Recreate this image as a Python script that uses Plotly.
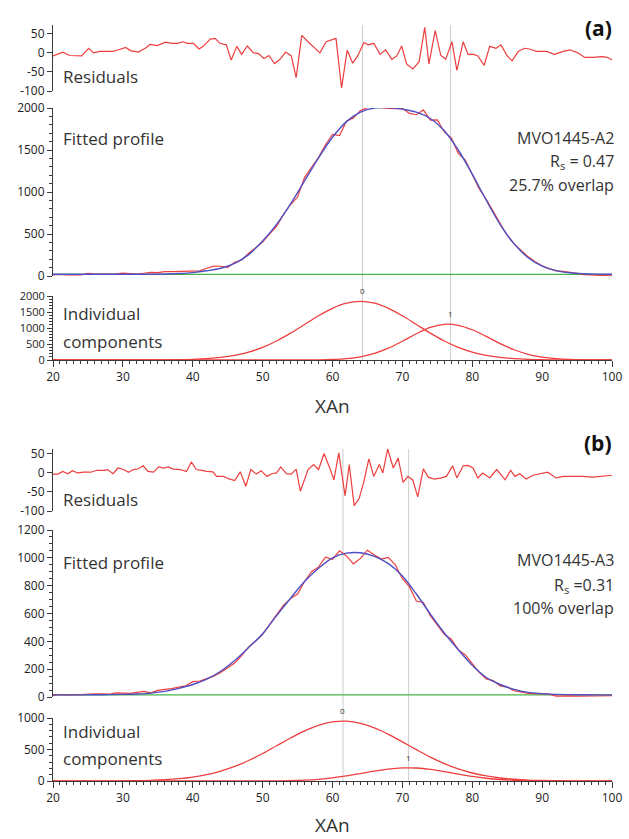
import plotly.graph_objects as go

# ---------------- data ----------------
x_grid = list(range(20, 101, 2))      # grid for fitted curves / components
x_obs = list(range(20, 101))          # grid for observed profiles

# Panel (a)  MVO1445-A2
res_a_x = [20.0, 20.7, 21.4, 22.4, 23.4, 24.1, 25.1, 25.8, 26.7, 27.7, 28.6, 29.4, 30.4, 31.1, 32.2, 33.2,
           33.9, 34.9, 36.1, 37.0, 37.8, 38.6, 39.2, 40.1, 40.9, 41.5, 42.5, 43.2, 43.9, 44.8, 45.5, 46.3,
           47.0, 47.8, 48.7, 49.4, 50.2, 50.9, 51.7, 52.5, 53.3, 54.1, 54.8, 55.6, 56.5, 58.2, 59.1, 60.5,
           61.3, 62.1, 62.9, 63.6, 64.5, 65.1, 65.9, 66.8, 67.6, 68.5, 69.2, 69.9, 70.6, 71.5, 72.4, 73.2,
           73.8, 74.7, 75.5, 76.2, 77.1, 77.8, 78.7, 79.4, 80.2, 80.8, 81.7, 82.5, 83.4, 84.1, 85.0, 85.7,
           86.6, 87.5, 88.2, 89.2, 90.6, 91.8, 93.0, 94.0, 95.1, 96.1, 97.3, 98.5, 99.2, 100.0]
res_a_y = [-8, -2, 2, -7, -7, -8, 12, 0, 4, 4, 4, 8, 14, 6, 2, 12,
           22, 19, 28, 25, 25, 29, 25, 25, 10, 17, 36, 38, 25, 21, -19, 17,
           -4, 18, 0, -2, -15, -7, -28, -17, 2, -8, -65, 46, 29, 0, 29, 38,
           -92, 7, -27, -8, 27, 21, 25, -4, 8, -17, -8, 18, -29, -42, -23, 67,
           -29, 58, -7, -17, 29, -46, 29, -4, -4, -8, -33, 17, 12, 21, -8, -21,
           4, 12, 10, 4, 4, -4, 4, 8, 0, -12, -12, -10, -11, -18]
obs_a = [12, 20, 13, 13, 12, 32, 22, 24, 24, 26, 34, 25, 23, 33, 43, 41, 51, 51, 56, 60,
         65, 62, 92, 117, 116, 103, 162, 191, 270, 336, 403, 502, 592, 735, 851, 940, 1172, 1295, 1410, 1563,
         1687, 1672, 1843, 1882, 1971, 2004, 2019, 2005, 1994, 1993, 1996, 1935, 1920, 1977, 1855, 1858, 1715, 1645, 1460, 1380,
         1209, 1035, 914, 767, 633, 482, 382, 305, 228, 169, 122, 88, 60, 54, 46, 32, 15, 12, 12, 10,
         2]
fit_a = [20, 20, 20, 20, 20, 20, 21, 21, 24, 29, 40, 62, 92, 150, 255, 416, 614, 859, 1132, 1407,
         1652, 1838, 1951, 1999, 2004, 1986, 1950, 1875, 1730, 1500, 1213, 902, 613, 382, 218, 118, 64, 38, 27, 22,
         20]
comp0_a = [0, 0, 0, 0, 0, 0, 0, 1, 4, 9, 20, 42, 80, 146, 248, 396, 594, 838, 1110, 1381,
           1615, 1774, 1830, 1774, 1615, 1381, 1110, 838, 594, 396, 248, 146, 80, 42, 20, 9, 4, 2, 1, 0,
           0]
comp1_a = [0, 0, 0, 0, 0, 0, 0, 0, 0, 0, 0, 0, 0, 0, 0, 0, 0, 1, 2, 6,
           17, 44, 101, 205, 369, 585, 820, 1017, 1116, 1085, 945, 736, 513, 320, 178, 89, 40, 16, 6, 2,
           0]
base_a = [20, 20]
centers_a = [64.3, 76.9]
peak_a = [1830, 1116]

# Panel (b)  MVO1445-A3
res_b_x = [20.0, 20.7, 21.4, 22.1, 22.8, 23.5, 24.4, 25.4, 26.3, 27.3, 27.8, 28.6, 29.3, 30.1, 30.8, 31.5,
           32.2, 32.9, 33.6, 34.4, 35.1, 35.8, 36.5, 37.2, 38.2, 39.1, 39.8, 40.5, 41.3, 42.0, 42.9, 43.4,
           44.4, 45.1, 46.0, 46.8, 47.6, 48.3, 49.1, 49.8, 50.6, 51.3, 52.0, 52.6, 53.4, 54.1, 54.8, 55.4,
           56.5, 57.3, 58.0, 58.8, 59.6, 60.2, 60.9, 61.8, 62.4, 63.1, 63.8, 64.5, 65.2, 65.9, 66.7, 67.2,
           67.9, 68.7, 69.4, 70.1, 70.8, 71.5, 72.2, 73.0, 73.7, 74.6, 75.6, 76.3, 77.2, 77.8, 78.7, 79.4,
           80.1, 80.8, 81.5, 82.5, 83.5, 84.7, 85.5, 86.1, 86.8, 87.7, 88.7, 89.7, 90.8, 92.0, 93.0, 94.4,
           95.8, 97.3, 98.7, 100.0]
res_b_y = [-3, -3, 4, -2, 6, 0, 2, 2, 7, 7, 9, -2, 13, 9, 2, 9,
           11, 19, 4, 2, 16, 13, 16, 10, 9, 4, 29, 9, 7, 4, 3, -9,
           -9, -15, -20, 3, -35, 9, -3, 6, -9, -2, 0, 16, -2, -3, 10, -48,
           9, 22, 9, 51, 13, -18, 53, -60, 22, -86, -68, -22, 37, -9, 22, 0,
           63, 13, 39, -25, -9, -19, -63, 11, -11, -16, -13, -9, 19, -13, 19, 20,
           13, -13, 0, -13, 9, -18, 7, -9, -2, -16, -6, -2, 2, -13, -9, -9,
           -9, -11, -9, -6]
obs_b = [12, 18, 13, 18, 17, 17, 22, 23, 20, 30, 28, 26, 33, 40, 30, 48, 55, 60, 71, 81,
         110, 115, 132, 150, 176, 207, 244, 297, 360, 402, 450, 522, 590, 660, 707, 740, 830, 900, 935, 1005,
         990, 1050, 1014, 957, 996, 1055, 1020, 991, 1003, 948, 850, 793, 690, 679, 584, 514, 451, 415, 340, 302,
         241, 177, 130, 118, 80, 70, 46, 33, 25, 24, 24, 21, 7, 9, 8, 7, 7, 4, 5, 6,
         9]
fit_b = [15, 15, 15, 16, 17, 19, 22, 28, 40, 62, 90, 128, 185, 262, 355, 455, 585, 710, 830, 925,
         1000, 1034, 1036, 1010, 958, 870, 740, 596, 460, 340, 228, 140, 90, 55, 33, 24, 19, 17, 16, 15,
         15]
comp0_b = [0, 0, 0, 1, 1, 3, 6, 11, 21, 37, 63, 101, 157, 231, 325, 436, 559, 682, 795, 884,
           937, 949, 916, 843, 741, 621, 497, 379, 276, 191, 127, 80, 48, 28, 15, 8, 4, 2, 1, 0,
           0]
comp1_b = [0, 0, 0, 0, 0, 0, 0, 0, 0, 0, 0, 0, 0, 0, 0, 1, 3, 6, 14, 27,
           49, 80, 118, 157, 190, 208, 206, 185, 150, 110, 73, 44, 24, 12, 5, 2, 1, 0, 0, 0,
           0]
base_b = [15, 15]
centers_b = [61.5, 70.9]
peak_b = [949, 208]

x_ticks = [20, 30, 40, 50, 60, 70, 80, 90, 100]

# ---------------- styling ----------------
W, H = 629, 839
RED = "rgb(238,62,62)"
BLUE = "rgb(78,80,196)"
GREEN = "rgb(70,180,70)"
AX = "#3a3a3a"
FONT = "Open Sans"


def py(p):
    return 1 - p / H


def pxx(p):
    return p / W


XDOM = [pxx(53), pxx(612)]

fig = go.Figure()

panels = [
    dict(res_x=res_a_x, res_y=res_a_y, obs=obs_a, fit=fit_a, c0=comp0_a, c1=comp1_a, base=base_a,
         ax=["", "2", "3"]),
    dict(res_x=res_b_x, res_y=res_b_y, obs=obs_b, fit=fit_b, c0=comp0_b, c1=comp1_b, base=base_b,
         ax=["4", "5", "6"]),
]

for p in panels:
    a0, a1, a2 = p["ax"]
    fig.add_trace(go.Scatter(x=p["res_x"], y=p["res_y"], mode="lines", line=dict(color=RED, width=1.2),
                             xaxis="x" + a0, yaxis="y" + a0, showlegend=False, hoverinfo="skip"))
    fig.add_trace(go.Scatter(x=[20, 100], y=p["base"], mode="lines", line=dict(color=GREEN, width=1.2),
                             xaxis="x" + a1, yaxis="y" + a1, showlegend=False, hoverinfo="skip"))
    fig.add_trace(go.Scatter(x=x_obs, y=p["obs"], mode="lines", line=dict(color=RED, width=1.2),
                             xaxis="x" + a1, yaxis="y" + a1, showlegend=False, hoverinfo="skip"))
    fig.add_trace(go.Scatter(x=x_grid, y=p["fit"], mode="lines", line=dict(color=BLUE, width=1.4, shape="spline"),
                             xaxis="x" + a1, yaxis="y" + a1, showlegend=False, hoverinfo="skip"))
    for c in (p["c0"], p["c1"]):
        fig.add_trace(go.Scatter(x=x_grid, y=c, mode="lines", line=dict(color=RED, width=1.3, shape="spline"),
                                 xaxis="x" + a2, yaxis="y" + a2, showlegend=False, hoverinfo="skip"))

# y-axis geometry (pixel positions of range ends)
yspec = {
    "yaxis":  dict(top=25, bot=91, rng=[-100, 73], tickvals=[-100, -50, 0, 50], minor=None, fs=12),
    "yaxis2": dict(top=108, bot=276, rng=[0, 2000], tickvals=[0, 500, 1000, 1500, 2000], minor=100, fs=12),
    "yaxis3": dict(top=296, bot=360, rng=[0, 2000], tickvals=[0, 500, 1000, 1500, 2000], minor=100, fs=11),
    "yaxis4": dict(top=449, bot=511, rng=[-100, 63], tickvals=[-100, -50, 0, 50], minor=None, fs=12),
    "yaxis5": dict(top=530, bot=697, rng=[0, 1200], tickvals=[0, 200, 400, 600, 800, 1000, 1200], minor=50, fs=12),
    "yaxis6": dict(top=718, bot=781, rng=[0, 1000], tickvals=[0, 500, 1000], minor=100, fs=12),
}
layout = dict(width=W, height=H, margin=dict(l=0, r=0, t=0, b=0), template="none",
              paper_bgcolor="white", plot_bgcolor="rgba(0,0,0,0)", showlegend=False,
              font=dict(family=FONT, color="#333"))

for i, (name, s) in enumerate(yspec.items()):
    suffix = "" if i == 0 else str(i + 1)
    ax = dict(domain=[py(s["bot"]), py(s["top"])], range=s["rng"], tickvals=s["tickvals"],
              ticktext=[str(v) for v in s["tickvals"]],
              showline=True, linecolor=AX, linewidth=1, ticks="outside", ticklen=5, tickcolor=AX,
              tickwidth=1, tickfont=dict(size=s["fs"], color="#222", family=FONT), showgrid=False,
              zeroline=False, automargin=False, anchor="x" + suffix, fixedrange=True)
    if s["minor"]:
        ax["minor"] = dict(dtick=s["minor"], tick0=0, ticks="outside", ticklen=3, tickcolor=AX, showgrid=False)
    layout[name] = ax
    xname = "xaxis" + suffix
    xa = dict(domain=XDOM, range=[20, 100], anchor="y" + suffix, showgrid=False, zeroline=False,
              automargin=False, fixedrange=True)
    if suffix in ("3", "6"):
        xa.update(showline=True, linecolor=AX, linewidth=1, ticks="outside", ticklen=6, tickcolor=AX,
                  tickvals=x_ticks, tickfont=dict(size=12, color="#222", family=FONT),
                  minor=dict(dtick=1, tick0=20, ticks="outside", ticklen=3, tickcolor=AX, showgrid=False))
    else:
        xa.update(visible=False)
    layout[xname] = xa

fig.update_layout(**layout)

# vertical component-centre lines
shapes = []
for centers, xr, top, bot in ((centers_a, "x3", 25, 360), (centers_b, "x6", 449, 781)):
    for c in centers:
        shapes.append(dict(type="line", xref=xr, yref="paper", x0=c, x1=c, y0=py(bot), y1=py(top),
                           line=dict(color="#cccccc", width=1), layer="below"))
fig.update_layout(shapes=shapes)

ann = []


def txt(text, x, y, size, xanchor="left", bold=False, color="#333"):
    ann.append(dict(text=("<b>%s</b>" % text) if bold else text, x=pxx(x), y=py(y), xref="paper",
                    yref="paper", xanchor=xanchor, yanchor="middle", showarrow=False,
                    font=dict(size=size, family=FONT, color=color)))


# panel (a)
txt("(a)", 598, 28, 21, "center", bold=True, color="#111")
txt("Residuals", 61, 76, 17)
txt("Fitted profile", 61, 138, 17)
txt("Individual", 61, 314, 17)
txt("components", 61, 341, 17)
txt("MVO1445-A2", 616, 138, 16, "right")
txt("R<sub>s</sub> = 0.47", 616, 162, 16, "right")
txt("25.7% overlap", 616, 185, 16, "right")
txt("XAn", 332, 406, 19, "center")
# panel (b)
txt("(b)", 598, 443, 21, "center", bold=True, color="#111")
txt("Residuals", 61, 499, 17)
txt("Fitted profile", 61, 562, 17)
txt("Individual", 61, 731, 17)
txt("components", 61, 758, 17)
txt("MVO1445-A3", 616, 560, 16, "right")
txt("R<sub>s</sub> =0.31", 616, 585, 16, "right")
txt("100% overlap", 616, 608, 16, "right")
txt("XAn", 332, 825, 19, "center")

# component index labels above peaks
for centers, peaks, xr, yr in ((centers_a, peak_a, "x3", "y3"), (centers_b, peak_b, "x6", "y6")):
    for k, (c, pk) in enumerate(zip(centers, peaks)):
        ann.append(dict(text=str(k), x=c, y=pk, xref=xr, yref=yr, yanchor="bottom", yshift=3,
                        showarrow=False, font=dict(size=8, family=FONT, color="#333")))

fig.update_layout(annotations=ann)
fig.write_html("out.html", config={"displayModeBar": False},
               post_script="document.body.style.margin='0';document.body.style.overflow='hidden';")
